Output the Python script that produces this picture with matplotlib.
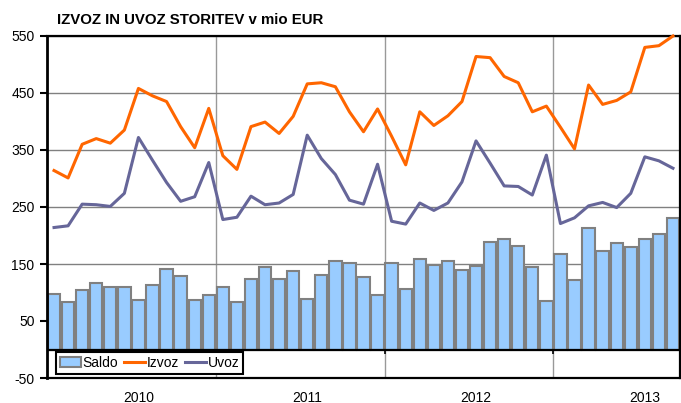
import numpy as np
import pandas as pd
import matplotlib
matplotlib.use('Agg')
import matplotlib.pyplot as plt
from matplotlib.patches import Patch
from matplotlib.lines import Line2D

plt.rcParams['font.family'] = ['Liberation Sans', 'DejaVu Sans']

# mesecni podatki jan 2010 - sep 2013
months = pd.period_range('2010-01', periods=45, freq='M')
saldo = [97, 83, 105, 117, 110, 110, 87, 113, 141, 129, 87, 95,
         110, 84, 123, 145, 123, 138, 89, 131, 155, 151, 127, 96,
         151, 106, 159, 148, 156, 140, 146, 189, 193, 182, 145, 85,
         168, 122, 213, 172, 186, 180, 193, 202, 230]
izvoz = [314, 301, 360, 370, 362, 385, 458, 445, 435, 391, 354, 423,
         340, 316, 391, 399, 379, 409, 466, 468, 461, 417, 382, 422,
         374, 324, 417, 393, 410, 435, 514, 512, 479, 468, 417, 427,
         390, 352, 464, 430, 437, 452, 530, 533, 550]
uvoz = [214, 217, 255, 254, 251, 274, 372, 332, 293, 260, 268, 328,
        228, 232, 269, 254, 257, 272, 376, 335, 307, 262, 255, 325,
        225, 220, 257, 244, 257, 294, 366, 327, 287, 286, 271, 341,
        221, 231, 252, 258, 249, 274, 338, 331, 318]
y_ticks = [-50, 50, 150, 250, 350, 450, 550]

x = np.arange(len(months))
years = np.array([m.year for m in months])
mon = np.array([m.month for m in months])
boundaries = x[1:][years[1:] != years[:-1]] - 0.5
label_pos = x[mon == 7]
label_txt = [str(y) for y in years[mon == 7]]

c_bar = '#99CCFF'
c_izv = '#FF6600'
c_uvo = '#666699'

fig = plt.figure(figsize=(6.81, 4.03), dpi=100)
ax = fig.add_axes([47/681, 25/403, 633/681, 342/403])

ax.bar(x, saldo, width=0.88, color=c_bar, edgecolor='#808080', linewidth=1.5, zorder=2)
ax.plot(x, izvoz, color=c_izv, lw=2.2, zorder=3, clip_on=False)
ax.plot(x, uvoz, color=c_uvo, lw=2.2, zorder=3)

ax.set_xlim(-0.5, len(months) - 0.5)
ax.set_ylim(-50, 550)
ax.set_yticks(y_ticks)
ax.set_yticklabels([str(v) for v in y_ticks], fontsize=10)
ax.tick_params(axis='y', length=5, width=1.5, pad=4)

ax.set_xticks(label_pos)
ax.set_xticklabels(label_txt, fontsize=10)
ax.tick_params(axis='x', length=0, pad=9)
ax.set_xticks(boundaries, minor=True)
ax.tick_params(axis='x', which='minor', length=0)

ax.grid(axis='y', color='#808080', lw=1.0, zorder=0)
ax.grid(axis='x', which='minor', color='#999999', lw=1.0, zorder=0)
ax.grid(axis='x', which='major', visible=False)
ax.set_axisbelow(True)

ax.axhline(0, color='black', lw=1.6, zorder=4)
ax.vlines(boundaries, -8, 0, color='black', lw=1.2, zorder=4)

for s in ax.spines.values():
    s.set_color('black')
    s.set_linewidth(1.6)
ax.spines['left'].set_linewidth(2)

handles = [Patch(facecolor=c_bar, edgecolor='#808080', linewidth=1.5),
           Line2D([], [], color=c_izv, lw=2.2),
           Line2D([], [], color=c_uvo, lw=2.2)]
leg = ax.legend(handles, ['Saldo', 'Izvoz', 'Uvoz'], ncol=3, loc='lower left',
                bbox_to_anchor=(0.014, 0.012), fontsize=10, frameon=True,
                fancybox=False, framealpha=1, edgecolor='black',
                handlelength=1.5, handletextpad=0.12, columnspacing=0.45,
                borderpad=0.28, borderaxespad=0)
leg.get_frame().set_linewidth(1.5)
leg.set_zorder(5)

fig.text(57/681, 1 - 20/403, 'IZVOZ IN UVOZ STORITEV v mio EUR',
         fontsize=10.8, fontweight='bold', va='center', ha='left')

fig.savefig('out.png', dpi=100)
